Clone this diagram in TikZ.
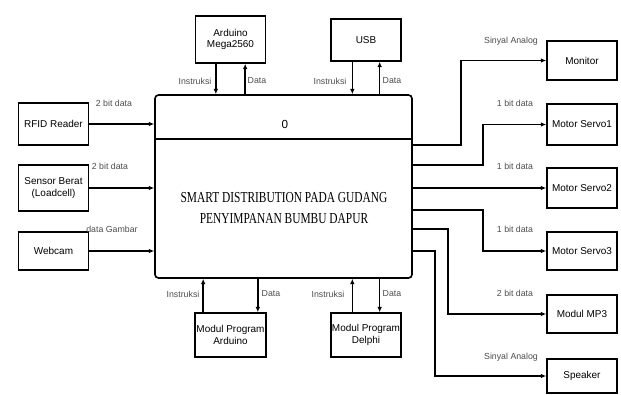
\documentclass[tikz,border=0pt]{standalone}
\usepackage{fontspec}
\setmainfont{Liberation Sans}
\newfontfamily\titlefont[FakeStretch=0.75]{Liberation Serif}
\usetikzlibrary{arrows.meta}
\tikzset{
  dfdarr/.style={-{Latex[length=1.6mm,width=1.4mm]}, line width=1.3pt},
  dfdbox/.style={draw, line width=1.4pt, align=center, inner sep=1pt, font=\fontsize{8.5}{10}\selectfont},
  dfdlbl/.style={font=\fontsize{7.5}{8}\selectfont, text=black!70, inner sep=0pt},
}

\begin{document}
\begin{tikzpicture}[
  x=0.03cm, y=-0.03cm,
  ext/.style={dfdbox, minimum width=2.1cm},
]
  \useasboundingbox (0,0) rectangle (621,394);
  % proses utama
  \node[draw, line width=1.4pt, rounded corners=3pt, minimum width=7.71cm, minimum height=5.49cm] (main) at (283.5,186.5) {};
  \draw[line width=1.4pt] (main.west |- 0,139) -- (main.east |- 0,139);
  \node (nomor) at (285,124) {0};
  \node[font=\titlefont\fontsize{13}{18}\selectfont, align=center] (judul) at (284,208) {SMART DISTRIBUTION PADA GUDANG\\PENYIMPANAN BUMBU DAPUR};

  % entitas kiri
  \node[ext, minimum height=1.26cm] (rfid) at (53.5,124) {RFID Reader};
  \node[ext, minimum height=1.38cm] (sensor) at (53.5,188) {Sensor Berat\\(Loadcell)};
  \node[ext, minimum height=1.14cm] (webcam) at (53.5,251) {Webcam};

  % entitas atas / bawah
  \node[ext, minimum height=1.41cm] (arduino) at (230.5,39.5) {Arduino\\Mega2560};
  \node[ext, minimum height=1.26cm] (usb) at (366,40) {USB};
  \node[ext, minimum height=1.32cm] (mparduino) at (230.5,335) {Modul Program\\Arduino};
  \node[ext, minimum height=1.32cm] (mpdelphi) at (366,335) {Modul Program\\Delphi};

  % entitas kanan
  \node[ext, minimum height=1.17cm] (monitor) at (582,60.5) {Monitor};
  \node[ext, minimum height=1.23cm] (servo1) at (582,124.5) {Motor Servo1};
  \node[ext, minimum height=1.2cm] (servo2) at (582,188) {Motor Servo2};
  \node[ext, minimum height=1.14cm] (servo3) at (582,251) {Motor Servo3};
  \node[ext, minimum height=1.14cm] (mp3) at (582,314) {Modul MP3};
  \node[ext, minimum height=1.02cm] (speaker) at (582,376) {Speaker};

  \foreach \n in {rfid,sensor,webcam}
    \draw[dfdarr] (\n.east) -- (\n.east -| main.west);

  \foreach \n/\dx in {arduino/0.44cm, usb/0.41cm} {
    \draw[dfdarr] ([xshift=-\dx]\n.south) -- ([xshift=-\dx]\n.south |- main.north);
    \draw[dfdarr] ([xshift=\dx]\n.south |- main.north) -- ([xshift=\dx]\n.south);
  }
  \foreach \n/\dx in {mparduino/0.82cm, mpdelphi/0.41cm} {
    \draw[dfdarr] ([xshift=-\dx]\n.north) -- ([xshift=-\dx]\n.north |- main.south);
    \draw[dfdarr] ([xshift=\dx]\n.north |- main.south) -- ([xshift=\dx]\n.north);
  }

  \foreach \y/\dx/\n in {145/48/monitor, 165/70/servo1, 188/70/servo2, 210/70/servo3, 229/35/mp3, 251/22/speaker}
    \draw[dfdarr] (main.east |- 0,\y) -- ++(\dx,0) |- (\n.west);

  % label aliran data
  \node[dfdlbl] (l1) at (114,103) {2 bit data};
  \node[dfdlbl] (l2) at (110,166) {2 bit data};
  \node[dfdlbl] (l3) at (112,229) {data Gambar};
  \node[dfdlbl] (l4) at (195,81) {Instruksi};
  \node[dfdlbl] (l5) at (257,81) {Data};
  \node[dfdlbl] (l6) at (330,81) {Instruksi};
  \node[dfdlbl] (l7) at (392,81) {Data};
  \node[dfdlbl] (l8) at (183,294) {Instruksi};
  \node[dfdlbl] (l9) at (271,294) {Data};
  \node[dfdlbl] (l10) at (328,294) {Instruksi};
  \node[dfdlbl] (l11) at (392,294) {Data};
  \node[dfdlbl] (l12) at (511,41) {Sinyal Analog};
  \node[dfdlbl] (l13) at (515,103) {1 bit data};
  \node[dfdlbl] (l14) at (515,166) {1 bit data};
  \node[dfdlbl] (l15) at (515,229) {1 bit data};
  \node[dfdlbl] (l16) at (515,293) {2 bit data};
  \node[dfdlbl] (l17) at (511,357) {Sinyal Analog};
\end{tikzpicture}
\end{document}
